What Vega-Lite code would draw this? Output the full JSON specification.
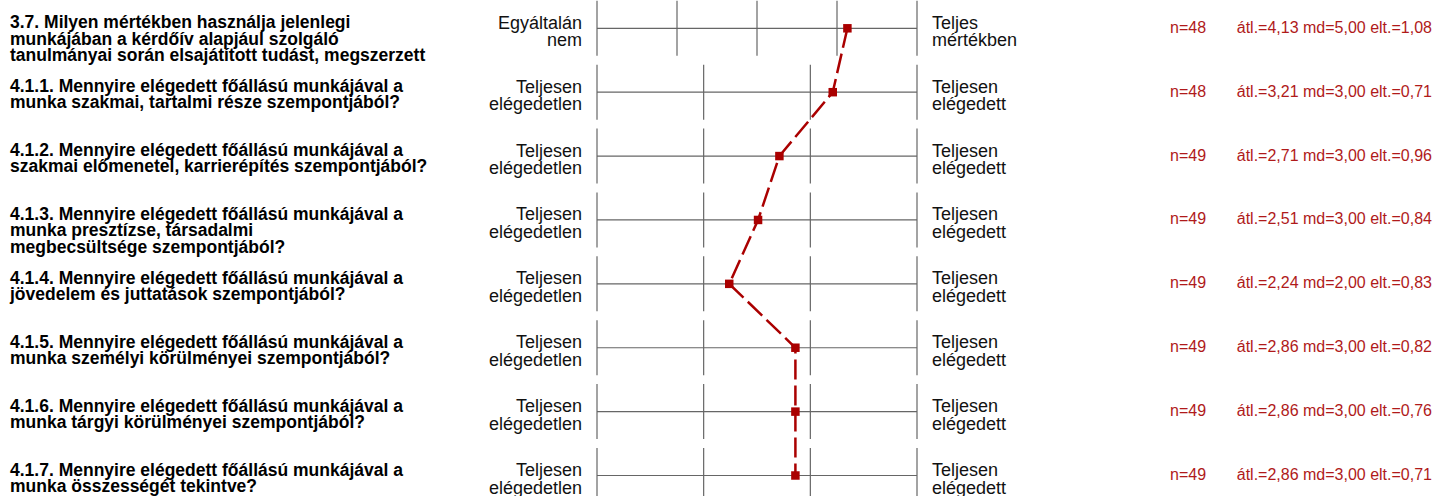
{
  "$schema": "https://vega.github.io/schema/vega-lite/v6.json",
  "padding": 0,
  "spacing": 0,
  "bounds": "flush",
  "background": "white",
  "config": {"view": {"stroke": null}, "text": {"font": "Liberation Sans"}},
  "datasets": {
    "rows": [
      {"id": "3.7", "row": 1, "q": ["3.7. Milyen mértékben használja jelenlegi", "munkájában a kérdőív alapjául szolgáló", "tanulmányai során elsajátított tudást, megszerzett"], "lo": ["Egyáltalán", "nem"], "hi": ["Teljes", "mértékben"], "n": "n=48", "stats": "átl.=4,13 md=5,00 elt.=1,08", "pos": 0.7825},
      {"id": "4.1.1", "row": 2, "q": ["4.1.1. Mennyire elégedett főállású munkájával a", "munka szakmai, tartalmi része szempontjából?"], "lo": ["Teljesen", "elégedetlen"], "hi": ["Teljesen", "elégedett"], "n": "n=48", "stats": "átl.=3,21 md=3,00 elt.=0,71", "pos": 0.7367},
      {"id": "4.1.2", "row": 3, "q": ["4.1.2. Mennyire elégedett főállású munkájával a", "szakmai előmenetel, karrierépítés szempontjából?"], "lo": ["Teljesen", "elégedetlen"], "hi": ["Teljesen", "elégedett"], "n": "n=49", "stats": "átl.=2,71 md=3,00 elt.=0,96", "pos": 0.57},
      {"id": "4.1.3", "row": 4, "q": ["4.1.3. Mennyire elégedett főállású munkájával a", "munka presztízse, társadalmi", "megbecsültsége szempontjából?"], "lo": ["Teljesen", "elégedetlen"], "hi": ["Teljesen", "elégedett"], "n": "n=49", "stats": "átl.=2,51 md=3,00 elt.=0,84", "pos": 0.5033},
      {"id": "4.1.4", "row": 5, "q": ["4.1.4. Mennyire elégedett főállású munkájával a", "jövedelem és juttatások szempontjából?"], "lo": ["Teljesen", "elégedetlen"], "hi": ["Teljesen", "elégedett"], "n": "n=49", "stats": "átl.=2,24 md=2,00 elt.=0,83", "pos": 0.4133},
      {"id": "4.1.5", "row": 6, "q": ["4.1.5. Mennyire elégedett főállású munkájával a", "munka személyi körülményei szempontjából?"], "lo": ["Teljesen", "elégedetlen"], "hi": ["Teljesen", "elégedett"], "n": "n=49", "stats": "átl.=2,86 md=3,00 elt.=0,82", "pos": 0.62},
      {"id": "4.1.6", "row": 7, "q": ["4.1.6. Mennyire elégedett főállású munkájával a", "munka tárgyi körülményei szempontjából?"], "lo": ["Teljesen", "elégedetlen"], "hi": ["Teljesen", "elégedett"], "n": "n=49", "stats": "átl.=2,86 md=3,00 elt.=0,76", "pos": 0.62},
      {"id": "4.1.7", "row": 8, "q": ["4.1.7. Mennyire elégedett főállású munkájával a", "munka összességét tekintve?"], "lo": ["Teljesen", "elégedetlen"], "hi": ["Teljesen", "elégedett"], "n": "n=49", "stats": "átl.=2,86 md=3,00 elt.=0,71", "pos": 0.62}
    ],
    "ticks": [
      {"id": "3.7", "p": 0}, {"id": "3.7", "p": 0.25}, {"id": "3.7", "p": 0.5}, {"id": "3.7", "p": 0.75}, {"id": "3.7", "p": 1},
      {"id": "4.1.1", "p": 0}, {"id": "4.1.1", "p": 0.3333}, {"id": "4.1.1", "p": 0.6667}, {"id": "4.1.1", "p": 1},
      {"id": "4.1.2", "p": 0}, {"id": "4.1.2", "p": 0.3333}, {"id": "4.1.2", "p": 0.6667}, {"id": "4.1.2", "p": 1},
      {"id": "4.1.3", "p": 0}, {"id": "4.1.3", "p": 0.3333}, {"id": "4.1.3", "p": 0.6667}, {"id": "4.1.3", "p": 1},
      {"id": "4.1.4", "p": 0}, {"id": "4.1.4", "p": 0.3333}, {"id": "4.1.4", "p": 0.6667}, {"id": "4.1.4", "p": 1},
      {"id": "4.1.5", "p": 0}, {"id": "4.1.5", "p": 0.3333}, {"id": "4.1.5", "p": 0.6667}, {"id": "4.1.5", "p": 1},
      {"id": "4.1.6", "p": 0}, {"id": "4.1.6", "p": 0.3333}, {"id": "4.1.6", "p": 0.6667}, {"id": "4.1.6", "p": 1},
      {"id": "4.1.7", "p": 0}, {"id": "4.1.7", "p": 0.3333}, {"id": "4.1.7", "p": 0.6667}, {"id": "4.1.7", "p": 1}
    ]
  },
  "hconcat": [
    {
      "width": 597,
      "height": 496,
      "data": {"name": "rows"},
      "encoding": {
        "y": {"field": "id", "type": "ordinal", "axis": null, "sort": null, "scale": {"type": "point", "padding": 0, "range": [27.3, 474.5]}}
      },
      "layer": [
        {"mark": {"type": "text", "align": "left", "baseline": "alphabetic", "fontSize": 17.5, "fontWeight": "bold", "lineHeight": 16.3, "color": "black"},
         "encoding": {"x": {"value": 10}, "text": {"field": "q"}}},
        {"mark": {"type": "text", "align": "right", "baseline": "alphabetic", "fontSize": 18, "lineHeight": 17.6, "dy": 0.5, "color": "#111111"},
         "encoding": {"x": {"value": 582}, "text": {"field": "lo"}}}
      ]
    },
    {
      "width": 320,
      "height": 496,
      "encoding": {
        "y": {"field": "id", "type": "ordinal", "axis": null, "sort": null, "scale": {"type": "point", "padding": 0, "range": [27.3, 474.5]}}
      },
      "layer": [
        {"data": {"name": "rows"},
         "mark": {"type": "rule", "color": "#666666", "strokeWidth": 1.2},
         "encoding": {"x": {"datum": 0, "type": "quantitative", "scale": {"domain": [0, 1]}, "axis": null}, "x2": {"datum": 1}}},
        {"data": {"name": "ticks"},
         "mark": {"type": "tick", "color": "#666666", "thickness": 1.2, "size": 55, "orient": "vertical", "opacity": 1},
         "encoding": {"x": {"field": "p", "type": "quantitative", "axis": null}}},
        {"data": {"name": "rows"},
         "mark": {"type": "line", "color": "#aa0000", "strokeWidth": 2.5, "strokeDash": [20, 6]},
         "encoding": {"x": {"field": "pos", "type": "quantitative", "axis": null}, "order": {"field": "row"}}},
        {"data": {"name": "rows"},
         "mark": {"type": "point", "shape": "square", "filled": true, "size": 72, "color": "#aa0000", "opacity": 1},
         "encoding": {"x": {"field": "pos", "type": "quantitative", "axis": null}}}
      ],
      "resolve": {"scale": {"x": "shared"}}
    },
    {
      "width": 516,
      "height": 496,
      "data": {"name": "rows"},
      "encoding": {
        "y": {"field": "id", "type": "ordinal", "axis": null, "sort": null, "scale": {"type": "point", "padding": 0, "range": [27.3, 474.5]}}
      },
      "layer": [
        {"mark": {"type": "text", "align": "left", "baseline": "alphabetic", "fontSize": 18, "lineHeight": 17.6, "dy": 0.5, "color": "#111111"},
         "encoding": {"x": {"value": 15}, "text": {"field": "hi"}}},
        {"mark": {"type": "text", "align": "left", "baseline": "alphabetic", "fontSize": 16, "dy": 4.5, "color": "#b01a1a"},
         "encoding": {"x": {"value": 253}, "text": {"field": "n"}}},
        {"mark": {"type": "text", "align": "right", "baseline": "alphabetic", "fontSize": 16, "dy": 4.5, "color": "#b01a1a"},
         "encoding": {"x": {"value": 515}, "text": {"field": "stats"}}}
      ]
    }
  ]
}
